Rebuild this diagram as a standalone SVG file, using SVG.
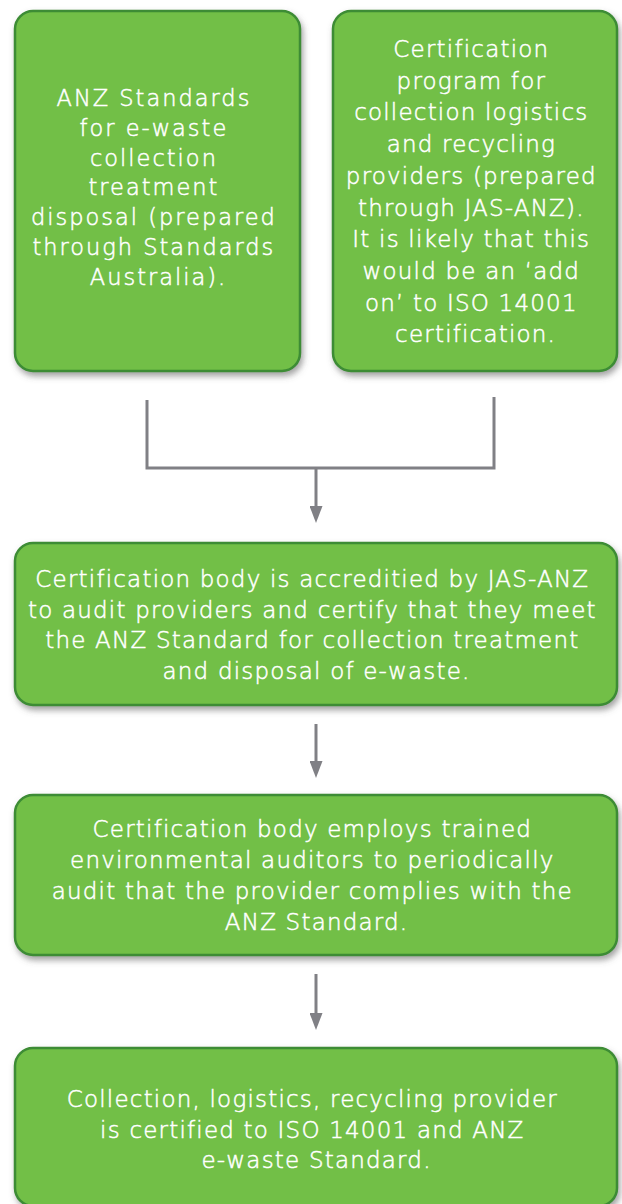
<svg xmlns="http://www.w3.org/2000/svg" width="622" height="1204" viewBox="0 0 622 1204">
<defs>
<style>
.box{fill:#72bf46;stroke:#3d8c35;stroke-width:2.5;filter:url(#sh)}
.t{font-family:"DejaVu Sans","Liberation Sans",sans-serif;font-weight:200;font-size:23px;letter-spacing:1.2px;fill:#ffffff;stroke:#ffffff;stroke-width:0.5;text-anchor:middle}
.t1{font-size:22.5px;letter-spacing:2px}
.c{fill:none;stroke:#808085;stroke-width:3}
</style>
<filter id="sh" x="-10%" y="-10%" width="125%" height="130%">
<feDropShadow dx="2" dy="4" stdDeviation="3" flood-color="#555" flood-opacity="0.55"/>
</filter>
<marker id="ah" markerUnits="userSpaceOnUse" viewBox="0 0 17 13" markerWidth="17" markerHeight="13" refX="4" refY="6.5" orient="auto">
<path d="M0,0 L17,6.5 L0,13 Z" fill="#808085"/>
</marker>
</defs>
<g id="connectors">
<path class="c" d="M147,400 V468 H494 V397"/>
<path class="c" d="M316,468 V510" marker-end="url(#ah)"/>
<path class="c" d="M316,724 V765" marker-end="url(#ah)"/>
<path class="c" d="M316,974 V1017" marker-end="url(#ah)"/>
</g>
<g id="node1">
<rect class="box" x="15" y="11" width="285" height="360" rx="18"/>
<text class="t t1" x="157.5">
<tspan x="158.5" y="106">ANZ Standards</tspan>
<tspan x="158.5" y="135.8">for e-waste</tspan>
<tspan x="158.5" y="165.6">collection</tspan>
<tspan x="158.5" y="195.4">treatment</tspan>
<tspan x="158.5" y="225.2">disposal (prepared</tspan>
<tspan x="158.5" y="255">through Standards</tspan>
<tspan x="158.5" y="284.8">Australia).</tspan>
</text>
</g>
<g id="node2">
<rect class="box" x="333" y="11" width="284" height="360" rx="18"/>
<text class="t" x="475">
<tspan x="475.6" y="57">Certification</tspan>
<tspan x="475.6" y="88.7">program for</tspan>
<tspan x="475.6" y="120.4">collection logistics</tspan>
<tspan x="475.6" y="152.1">and recycling</tspan>
<tspan x="475.6" y="183.8">providers (prepared</tspan>
<tspan x="475.6" y="215.5">through JAS-ANZ).</tspan>
<tspan x="475.6" y="247.2">It is likely that this</tspan>
<tspan x="475.6" y="278.9">would be an ‘add</tspan>
<tspan x="475.6" y="310.6">on’ to ISO 14001</tspan>
<tspan x="475.6" y="342.3">certification.</tspan>
</text>
</g>
<g id="node3">
<rect class="box" x="15" y="543" width="602" height="162" rx="18"/>
<text class="t" x="316">
<tspan x="316.6" y="587">Certification body is accreditied by JAS-ANZ</tspan>
<tspan x="316.6" y="617.5">to audit providers and certify that they meet</tspan>
<tspan x="316.6" y="648">the ANZ Standard for collection treatment</tspan>
<tspan x="316.6" y="678.5">and disposal of e-waste.</tspan>
</text>
</g>
<g id="node4">
<rect class="box" x="15" y="795" width="602" height="160" rx="18"/>
<text class="t" x="316">
<tspan x="316.6" y="837">Certification body employs trained</tspan>
<tspan x="316.6" y="868">environmental auditors to periodically</tspan>
<tspan x="316.6" y="899">audit that the provider complies with the</tspan>
<tspan x="316.6" y="930">ANZ Standard.</tspan>
</text>
</g>
<g id="node5">
<rect class="box" x="15" y="1048" width="602" height="158" rx="18"/>
<text class="t" x="316">
<tspan x="316.6" y="1107">Collection, logistics, recycling provider</tspan>
<tspan x="316.6" y="1137.5">is certified to ISO 14001 and ANZ</tspan>
<tspan x="316.6" y="1168">e-waste Standard.</tspan>
</text>
</g>
</svg>
